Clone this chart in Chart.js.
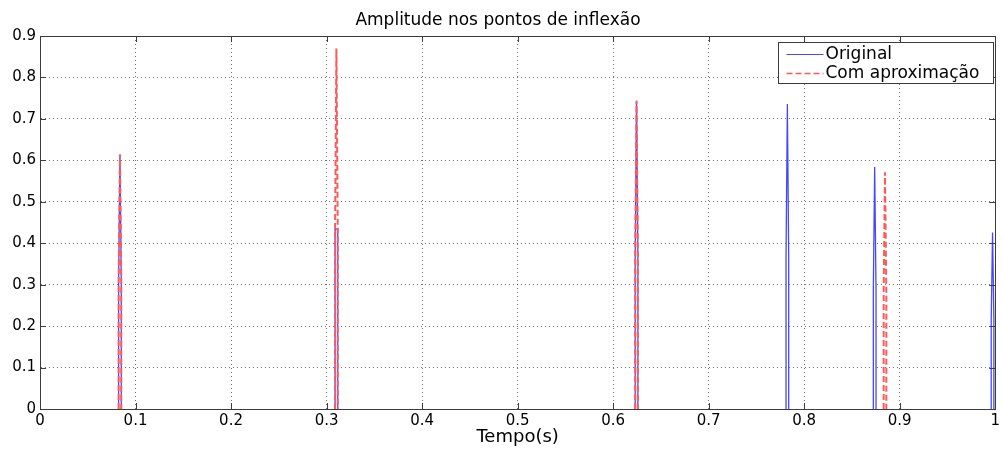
<!DOCTYPE html>
<html>
<head>
<meta charset="utf-8">
<script src="https://cdn.jsdelivr.net/npm/chart.js@4/dist/chart.umd.min.js"></script>
<style>
  html, body { margin: 0; padding: 0; background: #fff; }
  #wrap { width: 1003px; height: 450px; }
</style>
</head>
<body>
<div id="wrap"><canvas id="c" width="1003" height="450"></canvas></div>
<script>
// ---- data ----
const chartTitle = 'Amplitude nos pontos de inflexão';
const xAxisTitle = 'Tempo(s)';
const xTickLabels = ['0', '0.1', '0.2', '0.3', '0.4', '0.5', '0.6', '0.7', '0.8', '0.9', '1'];
const yTickLabels = ['0', '0.1', '0.2', '0.3', '0.4', '0.5', '0.6', '0.7', '0.8', '0.9'];

// "Original" series: time of each inflexion spike, its peak and its shoulder amplitude
const originalTimes    = [0.0837, 0.3103, 0.6245, 0.7824, 0.8738, 0.9972];
const originalPeaks    = [0.614,  0.434,  0.744,  0.736,  0.584,  0.426];
const originalShoulder = [0.306,  0.434,  0.371,  0.367,  0.290,  0.214];

// "Com aproximação" series
const approxTimes    = [0.0837, 0.3103, 0.6245, 0.8846];
const approxPeaks    = [0.614,  0.870,  0.744,  0.571];
const approxShoulder = [0.306,  0.434,  0.371,  0.282];

// half-width of each spike in time units (sampling step)
const halfWidth = 0.0014;

function spikePoints(times, peaks, shoulders) {
  const pts = [];
  times.forEach((t, i) => {
    pts.push({x: t - halfWidth, y: 0});
    pts.push({x: t - halfWidth, y: shoulders[i]});
    pts.push({x: t, y: peaks[i]});
    pts.push({x: t + halfWidth, y: shoulders[i]});
    pts.push({x: t + halfWidth, y: 0});
    pts.push({x: t + halfWidth, y: null});
  });
  return pts;
}

const FONT = 'DejaVu Sans';

const boxPlugin = {
  id: 'boxPlugin',
  afterDatasetsDraw(chart) {
    const {ctx, chartArea: a, scales} = chart;
    ctx.save();
    ctx.strokeStyle = '#3c3c3c';
    ctx.lineWidth = 1;
    ctx.strokeRect(Math.round(a.left) + 0.5, Math.round(a.top) + 0.5,
                   Math.round(a.right - a.left), Math.round(a.bottom - a.top));
    // inward ticks on all four sides
    const tl = 6;
    ctx.beginPath();
    scales.x.ticks.forEach(t => {
      const px = Math.round(scales.x.getPixelForValue(t.value)) + 0.5;
      ctx.moveTo(px, a.bottom); ctx.lineTo(px, a.bottom - tl);
      ctx.moveTo(px, a.top); ctx.lineTo(px, a.top + tl);
    });
    scales.y.ticks.forEach(t => {
      const py = Math.round(scales.y.getPixelForValue(t.value)) + 0.5;
      ctx.moveTo(a.left, py); ctx.lineTo(a.left + tl, py);
      ctx.moveTo(a.right, py); ctx.lineTo(a.right - tl, py);
    });
    ctx.stroke();
    ctx.restore();
  },
  afterDraw(chart) {
    // MATLAB-style legend box in the upper right corner
    const {ctx} = chart;
    const ds = chart.data.datasets;
    const bx = 778.5, by = 42.5, bw = 215, bh = 41;
    ctx.save();
    ctx.fillStyle = '#fff';
    ctx.fillRect(bx, by, bw, bh);
    ctx.strokeStyle = '#3c3c3c';
    ctx.lineWidth = 1;
    ctx.strokeRect(bx, by, bw, bh);
    ctx.font = '17px "' + FONT + '"';
    ctx.textBaseline = 'middle';
    ds.forEach((d, i) => {
      const y = by + 11 + i * 19;
      ctx.save();
      ctx.strokeStyle = d.borderColor;
      ctx.lineWidth = d.borderDash ? 1.5 : 1;
      ctx.setLineDash(d.borderDash || []);
      ctx.beginPath();
      ctx.moveTo(bx + 8, Math.round(y) + 0.5);
      ctx.lineTo(bx + 45, Math.round(y) + 0.5);
      ctx.stroke();
      ctx.restore();
      ctx.fillStyle = '#000';
      ctx.fillText(d.label, bx + 47, y + 1);
    });
    ctx.restore();
  }
};

new Chart(document.getElementById('c'), {
  type: 'line',
  data: {
    datasets: [
      {
        label: 'Original',
        data: spikePoints(originalTimes, originalPeaks, originalShoulder),
        borderColor: '#4646ff',
        borderWidth: 1.3,
        pointRadius: 0,
        tension: 0,
        spanGaps: false,
        fill: false,
        order: 2
      },
      {
        label: 'Com aproximação',
        data: spikePoints(approxTimes, approxPeaks, approxShoulder),
        borderColor: '#ff5a5a',
        borderWidth: 2,
        borderDash: [6, 3],
        pointRadius: 0,
        tension: 0,
        spanGaps: false,
        fill: false,
        order: 1
      }
    ]
  },
  options: {
    responsive: false,
    animation: false,
    events: [],
    layout: { padding: { left: 0, right: 7, top: 0, bottom: 0 } },
    plugins: {
      legend: { display: false },
      tooltip: { enabled: false },
      title: {
        display: true,
        text: chartTitle,
        color: '#000',
        font: { family: FONT, size: 17, weight: 'normal' },
        padding: { top: 10, bottom: 5.6 }
      }
    },
    scales: {
      x: {
        type: 'linear',
        min: 0, max: 1,
        afterFit(s) { s.height = 41; },
        ticks: {
          stepSize: 0.1,
          color: '#000',
          padding: 3,
          maxRotation: 0,
          autoSkip: false,
          font: { family: FONT, size: 15 },
          callback: (v, i) => xTickLabels[i]
        },
        grid: { color: 'rgba(0,0,0,0.55)', drawTicks: false, lineWidth: 1 },
        border: { display: true, color: '#3c3c3c', dash: [1, 3] },
        title: {
          display: true,
          text: xAxisTitle,
          color: '#000',
          font: { family: FONT, size: 18 },
          padding: { top: 0, bottom: 2 }
        }
      },
      y: {
        type: 'linear',
        min: 0, max: 0.9,
        afterFit(s) { s.width = 40; },
        ticks: {
          stepSize: 0.1,
          color: '#000',
          padding: 4,
          autoSkip: false,
          font: { family: FONT, size: 15 },
          callback: (v, i) => yTickLabels[i]
        },
        grid: { color: 'rgba(0,0,0,0.55)', drawTicks: false, lineWidth: 1 },
        border: { display: true, color: '#3c3c3c', dash: [1, 3] }
      }
    }
  },
  plugins: [boxPlugin]
});
</script>
</body>
</html>
